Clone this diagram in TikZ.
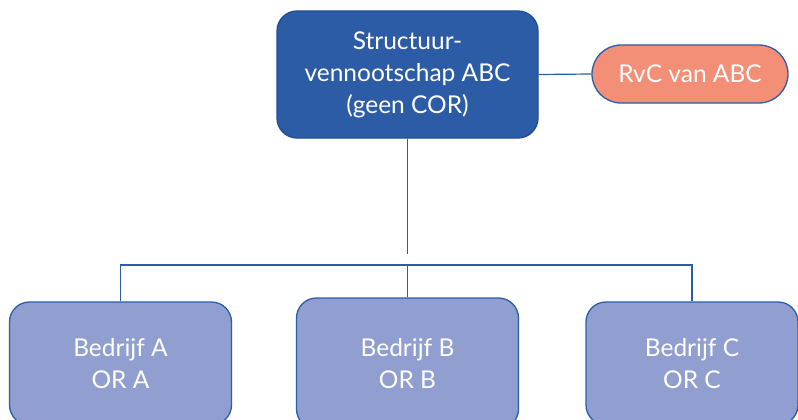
\documentclass[tikz,border=0pt]{standalone}
\usepackage{fontspec}
\setmainfont{Lato}
\definecolor{topfill}{HTML}{2D5CA6}
\definecolor{topline}{HTML}{1F4F99}
\definecolor{rvcfill}{HTML}{F28F76}
\definecolor{linkblue}{HTML}{2B5DA8}
\definecolor{botfill}{HTML}{919FD0}
\begin{document}
\begin{tikzpicture}[x=1pt,y=-1pt,
  txt/.style={text=white,font=\fontsize{24.5}{32}\selectfont,align=center,inner sep=0pt},
  topbox/.style={txt,draw=topline,fill=topfill,line width=1.3pt,rounded corners=20pt,minimum width=261pt,minimum height=127pt},
  rvcbox/.style={txt,draw=linkblue,fill=rvcfill,line width=1.3pt,rounded corners=29pt,minimum width=196pt,minimum height=58pt},
  botbox/.style={txt,draw=linkblue,fill=botfill,line width=1.3pt,rounded corners=20pt,minimum width=222pt},
  link/.style={draw=linkblue,line width=1.2pt}]
\clip (0,0) rectangle (798,420);
\fill[white] (0,0) rectangle (798,420);
\node[topbox] (top) at (407.5,74.5) {Structuur-\\vennootschap ABC\\(geen COR)};
\node[rvcbox] (rvc) at (690,74) {RvC van ABC};
\node[botbox,minimum height=123pt] (A) at (120.5,363.5) {Bedrijf A\\OR A};
\node[botbox,minimum height=131pt] (B) at (407.5,363.5) {Bedrijf B\\OR B};
\node[botbox,minimum width=212pt,minimum height=123pt] (C) at (692,363.5) {Bedrijf C\\OR C};
\coordinate (tgap) at (407.5,254);
\coordinate (hbar) at (407.5,265);
\draw[link] (top.east) -- (rvc.west);
\draw[link] (top.south) -- (tgap);
\draw[link] (A.north) |- (hbar) -| (C.north);
\draw[link] (B.north) -- (hbar);
\end{tikzpicture}
\end{document}
